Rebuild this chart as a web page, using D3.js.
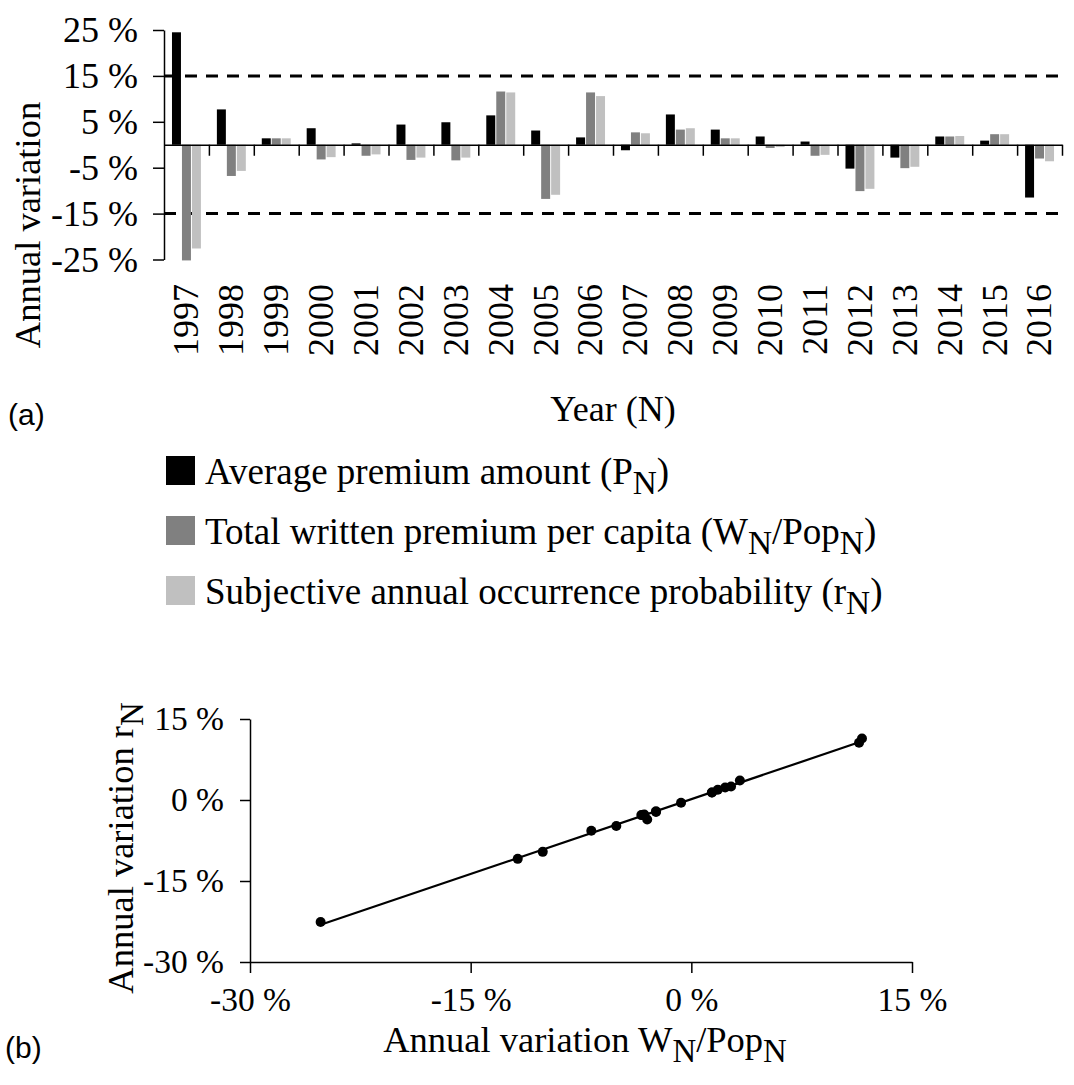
<!DOCTYPE html>
<html>
<head>
<meta charset="utf-8">
<script src="https://cdn.jsdelivr.net/npm/d3@7"></script>
</head>
<body style="margin:0; background:#fff">
<div id="chart"></div>
<script>
// data (annual variation, %)
const years = ["1997", "1998", "1999", "2000", "2001", "2002", "2003", "2004", "2005", "2006",
               "2007", "2008", "2009", "2010", "2011", "2012", "2013", "2014", "2015", "2016"];
const premium = [24.5, 7.7, 1.4, 3.6, 0.3, 4.4, 4.9, 6.4, 3.1, 1.6,
                 -1.2, 6.6, 3.3, 1.8, 0.7, -5.2, -2.8, 1.8, 0.9, -11.5];
const written = [-25.2, -6.8, 1.4, -3.2, -2.4, -3.3, -3.4, 11.6, -11.8, 11.4,
                 2.7, 3.3, 1.4, -0.7, -2.4, -10.1, -5.1, 1.8, 2.3, -3.0];
const prob = [-22.6, -5.7, 1.4, -2.7, -2.1, -2.8, -2.8, 11.4, -10.9, 10.6,
              2.5, 3.6, 1.4, -0.5, -2.2, -9.6, -4.8, 1.9, 2.3, -3.6];
const barTicks = [-25, -15, -5, 5, 15, 25];
const limitLines = [15, -15];
const scatterTicks = [-30, -15, 0, 15];

const seriesKeys = ["premium", "written", "prob"];
const seriesColors = {premium: "#000000", written: "#808080", prob: "#c0c0c0"};
const legendLabels = [
  [["Average premium amount (P", 0], ["N", 1], [")", 0]],
  [["Total written premium per capita (W", 0], ["N", 1], ["/Pop", 0], ["N", 1], [")", 0]],
  [["Subjective annual occurrence probability (r", 0], ["N", 1], [")", 0]]
];

const serif = '"Liberation Serif", "Times New Roman", serif';
const sans = '"Liberation Sans", Arial, sans-serif';

const rows = years.map((yr, i) => ({year: yr, premium: premium[i], written: written[i], prob: prob[i]}));

const svg = d3.select("#chart").append("svg")
  .attr("width", 1074)
  .attr("height", 1085)
  .style("display", "block");

// writes text pieces, subscripts shifted down a bit
function richText(sel, parts, size) {
  let down = false;
  parts.forEach(p => {
    const t = sel.append("tspan").text(p[0]);
    if (p[1]) t.attr("font-size", size * 0.9);
    if (p[1] && !down) { t.attr("dy", size * 0.28); down = true; }
    else if (!p[1] && down) { t.attr("dy", -size * 0.28); down = false; }
  });
}

// ---------- (a) bar chart ----------
let margin = {top: 30, left: 164};
let w = 898, h = 229.5;

let g = svg.append("g").attr("transform", `translate(${margin.left},${margin.top})`);

let x0 = d3.scaleBand().domain(years).range([0, w]);
let x1 = d3.scaleBand().domain(seriesKeys).range([0, x0.bandwidth()])
  .paddingInner(0.1).paddingOuter(0.8);
let y = d3.scaleLinear().domain([-25, 25]).range([h, 0]);

g.selectAll(".limit")
  .data(limitLines)
  .enter().append("line")
    .attr("class", "limit")
    .attr("x1", 0).attr("x2", w)
    .attr("y1", d => y(d)).attr("y2", d => y(d))
    .attr("stroke", "#000")
    .attr("stroke-width", 3)
    .attr("stroke-dasharray", "12,9");

g.selectAll(".year")
  .data(rows)
  .enter().append("g")
    .attr("class", "year")
    .attr("transform", d => `translate(${x0(d.year)},0)`)
  .selectAll("rect")
  .data(d => seriesKeys.map(k => ({key: k, value: d[k]})))
  .enter().append("rect")
    .attr("x", d => x1(d.key))
    .attr("width", x1.bandwidth())
    .attr("y", d => y(Math.max(0, d.value)))
    .attr("height", d => Math.abs(y(d.value) - y(0)))
    .attr("fill", d => seriesColors[d.key]);

let yAxis = g.append("g")
  .call(d3.axisLeft(y).tickValues(barTicks).tickSize(11).tickSizeOuter(0).tickPadding(15)
    .tickFormat(d => d + " %"));

// zero line with ticks at the year boundaries
let xb = d3.scaleLinear().domain([0, years.length]).range([0, w]);
let zeroAxis = g.append("g")
  .attr("transform", `translate(0,${y(0)})`)
  .call(d3.axisBottom(xb).tickValues(d3.range(1, years.length + 1)).tickSize(11).tickSizeOuter(0)
    .tickFormat(""));

let yearAxis = g.append("g")
  .attr("transform", `translate(0,${284 - margin.top})`)
  .call(d3.axisBottom(x0).tickSize(0));
yearAxis.select(".domain").remove();
yearAxis.selectAll("text")
  .attr("transform", "rotate(-90)")
  .attr("x", 0).attr("y", 0).attr("dy", "0.33em")
  .style("text-anchor", "end");

[yAxis, zeroAxis, yearAxis].forEach(a => {
  a.attr("font-size", 36);
  a.selectAll("path, line").attr("stroke", "#000").attr("stroke-width", 1.5);
});

svg.append("text")
  .attr("transform", "translate(40,225) rotate(-90)")
  .attr("text-anchor", "middle")
  .attr("font-size", 36.5)
  .text("Annual variation");

svg.append("text")
  .attr("x", 613).attr("y", 421)
  .attr("text-anchor", "middle")
  .attr("font-size", 36)
  .text("Year (N)");

// legend
let legend = svg.selectAll(".legend")
  .data(legendLabels)
  .enter().append("g")
    .attr("class", "legend")
    .attr("transform", (d, i) => `translate(166,${456 + i * 60})`);
legend.append("rect")
  .attr("width", 29).attr("height", 29)
  .attr("fill", (d, i) => seriesColors[seriesKeys[i]]);
legend.append("text")
  .attr("x", 39).attr("y", 28)
  .attr("font-size", 37)
  .each(function(d) { richText(d3.select(this), d, 37); });

// ---------- (b) scatter ----------
let sx = d3.scaleLinear().domain([-30, 15]).range([250, 912]);
let sy = d3.scaleLinear().domain([-30, 15]).range([962, 719]);

let sxAxis = svg.append("g")
  .attr("transform", `translate(0,${sy(-30)})`)
  .call(d3.axisBottom(sx).tickValues(scatterTicks).tickSize(11).tickSizeOuter(0).tickPadding(14)
    .tickFormat(d => d + " %"));
let syAxis = svg.append("g")
  .attr("transform", `translate(${sx(-30)},0)`)
  .call(d3.axisLeft(sy).tickValues(scatterTicks).tickSize(10).tickSizeOuter(0).tickPadding(16)
    .tickFormat(d => d + " %"));
[sxAxis, syAxis].forEach(a => {
  a.attr("font-size", 33.5);
  a.selectAll("path, line").attr("stroke", "#000").attr("stroke-width", 1.5);
});

// least squares trend line
let pts = written.map((v, i) => [v, prob[i]]);
let mx = d3.mean(pts, d => d[0]), my = d3.mean(pts, d => d[1]);
let slope = d3.sum(pts, d => (d[0] - mx) * (d[1] - my)) / d3.sum(pts, d => (d[0] - mx) ** 2);
let icpt = my - slope * mx;
let ext = d3.extent(pts, d => d[0]);

svg.append("line")
  .attr("x1", sx(ext[0])).attr("y1", sy(slope * ext[0] + icpt))
  .attr("x2", sx(ext[1])).attr("y2", sy(slope * ext[1] + icpt))
  .attr("stroke", "#000")
  .attr("stroke-width", 2.2);

svg.selectAll(".dot")
  .data(pts)
  .enter().append("circle")
    .attr("class", "dot")
    .attr("cx", d => sx(d[0]))
    .attr("cy", d => sy(d[1]))
    .attr("r", 5)
    .attr("fill", "#000");

svg.append("text")
  .attr("transform", "translate(133,848) rotate(-90)")
  .attr("text-anchor", "middle")
  .attr("font-size", 36.5)
  .call(t => richText(t, [["Annual variation r", 0], ["N", 1]], 36.5));

svg.append("text")
  .attr("x", 585).attr("y", 1052)
  .attr("text-anchor", "middle")
  .attr("font-size", 36.5)
  .call(t => richText(t, [["Annual variation W", 0], ["N", 1], ["/Pop", 0], ["N", 1]], 36.5));

// every text so far is serif, like the figure
svg.selectAll("text").attr("font-family", null).style("font-family", serif).attr("fill", "#000");
svg.selectAll("g").attr("font-family", null);

// panel letters in a sans face
svg.append("text")
  .attr("x", 8).attr("y", 425)
  .style("font-family", sans)
  .attr("font-size", 30)
  .text("(a)");
svg.append("text")
  .attr("x", 5).attr("y", 1058)
  .style("font-family", sans)
  .attr("font-size", 30)
  .text("(b)");
</script>
</body>
</html>
